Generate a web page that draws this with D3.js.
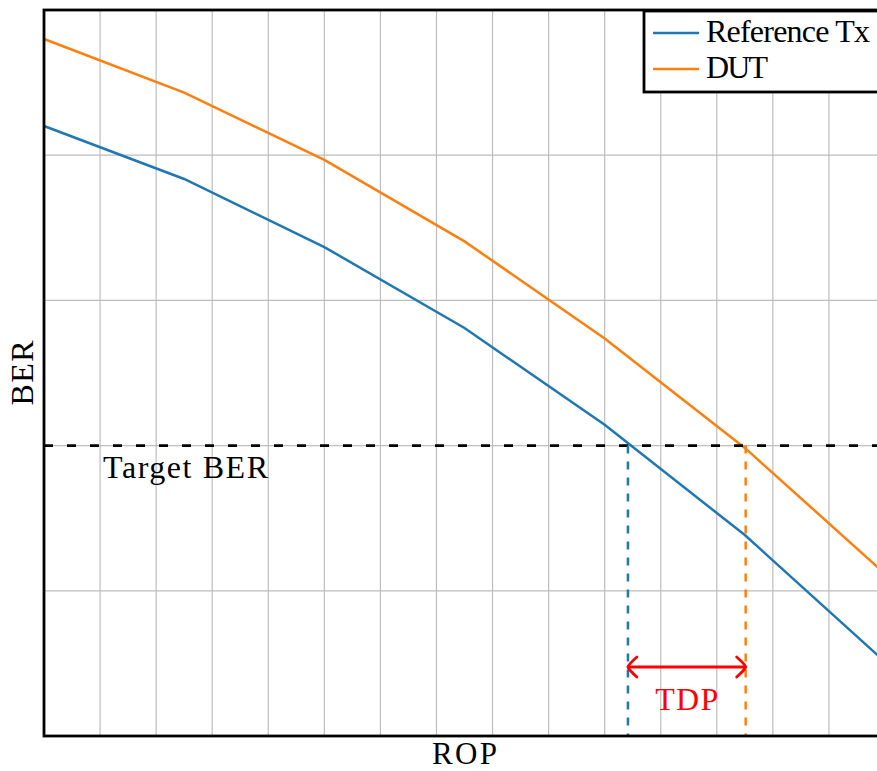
<!DOCTYPE html>
<html>
<head>
<meta charset="utf-8">
<script src="https://cdn.jsdelivr.net/npm/d3@7"></script>
<style>
  body { margin: 0; background: #fff; }
  text { font-family: "Liberation Serif", serif; }
</style>
</head>
<body>
<div id="chart"></div>
<script>
// ROP in dBm, BER values
var rop = [-15, -14, -13, -12, -11, -10, -9];
var berRef = [1.59e-4, 6.86e-5, 2.33e-5, 6.46e-6, 1.39e-6, 2.42e-7, 3.24e-8];
var berDut = [6.31e-4, 2.70e-4, 9.27e-5, 2.55e-5, 5.47e-6, 9.64e-7, 1.31e-7];
var seriesNames = ["Reference Tx", "DUT"];
var seriesColors = ["#1f77b4", "#ff7f0e"];
var targetBer = 1e-6;
var ropAtTarget = [-10.834, -9.994];   // where each curve crosses the target
var xGrid = d3.range(16).map(function (i) { return -15 + i * 0.4; });
var yGrid = [1e-4, 1e-5, 1e-6, 1e-7];

var width = 877, height = 771;
var pLeft = 44, pTop = 10, pRight = 885, pBottom = 736;

var svg = d3.select("#chart").append("svg")
    .attr("width", width)
    .attr("height", height);

var x = d3.scaleLinear().domain([-15, -9]).range([pLeft, pRight]);
var y = d3.scaleLog().domain([1e-8, 1e-3]).range([pBottom, pTop]);

// grid
svg.append("g").selectAll("line")
    .data(xGrid.slice(1, -1))
    .enter().append("line")
    .attr("x1", d => x(d)).attr("x2", d => x(d))
    .attr("y1", pTop).attr("y2", pBottom)
    .attr("stroke", "#bdbdbd").attr("stroke-width", 1.2);

svg.append("g").selectAll("line")
    .data(yGrid)
    .enter().append("line")
    .attr("x1", pLeft).attr("x2", pRight)
    .attr("y1", d => y(d)).attr("y2", d => y(d))
    .attr("stroke", "#bdbdbd").attr("stroke-width", 1.2);

// curves
var line = d3.line()
    .x((d, i) => x(rop[i]))
    .y(d => y(d));

[berRef, berDut].forEach(function (s, k) {
  svg.append("path")
      .datum(s)
      .attr("d", line)
      .attr("fill", "none")
      .attr("stroke", seriesColors[k])
      .attr("stroke-width", 2.5);
});

// target BER line
svg.append("line")
    .attr("x1", pLeft).attr("x2", pRight)
    .attr("y1", y(targetBer)).attr("y2", y(targetBer))
    .attr("stroke", "#000").attr("stroke-width", 2.6)
    .attr("stroke-dasharray", "9,14");

svg.append("text")
    .attr("x", 103).attr("y", 478)
    .attr("font-size", 32)
    .attr("textLength", 165).attr("lengthAdjust", "spacing")
    .text("Target BER");

// drops to the axis
ropAtTarget.forEach(function (r, k) {
  svg.append("line")
      .attr("x1", x(r)).attr("x2", x(r))
      .attr("y1", y(targetBer)).attr("y2", pBottom)
      .attr("stroke", seriesColors[k]).attr("stroke-width", 2.5)
      .attr("stroke-dasharray", "8,8");
});

// TDP arrow
var ay = 667;
svg.append("line")
    .attr("x1", x(ropAtTarget[0]) + 1).attr("x2", x(ropAtTarget[1]) - 1)
    .attr("y1", ay).attr("y2", ay)
    .attr("stroke", "red").attr("stroke-width", 2.8);

[[x(ropAtTarget[0]), 1], [x(ropAtTarget[1]), -1]].forEach(function (p) {
  var tx = p[0], s = p[1];
  svg.append("path")
      .attr("d", "M" + (tx + s * 9) + "," + (ay - 10) +
                 " Q" + (tx + s * 1) + "," + (ay - 3) + " " + tx + "," + ay +
                 " Q" + (tx + s * 1) + "," + (ay + 3) + " " + (tx + s * 9) + "," + (ay + 10))
      .attr("fill", "none")
      .attr("stroke", "red").attr("stroke-width", 2.8)
      .attr("stroke-linecap", "round");
});

svg.append("text")
    .attr("x", (x(ropAtTarget[0]) + x(ropAtTarget[1])) / 2)
    .attr("y", 710)
    .attr("text-anchor", "middle")
    .attr("font-size", 32)
    .attr("fill", "red")
    .attr("textLength", 63).attr("lengthAdjust", "spacing")
    .text("TDP");

// frame
svg.append("rect")
    .attr("x", pLeft).attr("y", pTop)
    .attr("width", pRight - pLeft).attr("height", pBottom - pTop)
    .attr("fill", "none")
    .attr("stroke", "#000").attr("stroke-width", 2.8);

// axis labels
svg.append("text")
    .attr("x", (pLeft + pRight) / 2).attr("y", 764)
    .attr("text-anchor", "middle")
    .attr("font-size", 31)
    .attr("textLength", 65).attr("lengthAdjust", "spacing")
    .text("ROP");

svg.append("text")
    .attr("transform", "translate(33," + (pTop + pBottom) / 2 + ") rotate(-90)")
    .attr("text-anchor", "middle")
    .attr("font-size", 32)
    .attr("textLength", 65).attr("lengthAdjust", "spacing")
    .text("BER");

// legend
var legend = svg.append("g").attr("transform", "translate(644,11)");
legend.append("rect")
    .attr("width", 260).attr("height", 81)
    .attr("fill", "#fff")
    .attr("stroke", "#000").attr("stroke-width", 2.8);

seriesNames.forEach(function (name, k) {
  var ly = 22 + k * 36;
  legend.append("line")
      .attr("x1", 9).attr("x2", 55)
      .attr("y1", ly).attr("y2", ly)
      .attr("stroke", seriesColors[k]).attr("stroke-width", 2.5);
  legend.append("text")
      .attr("x", 62).attr("y", ly + 9)
      .attr("font-size", 32)
      .attr("textLength", k === 0 ? 164 : 62).attr("lengthAdjust", "spacing")
      .text(name);
});
</script>
</body>
</html>
